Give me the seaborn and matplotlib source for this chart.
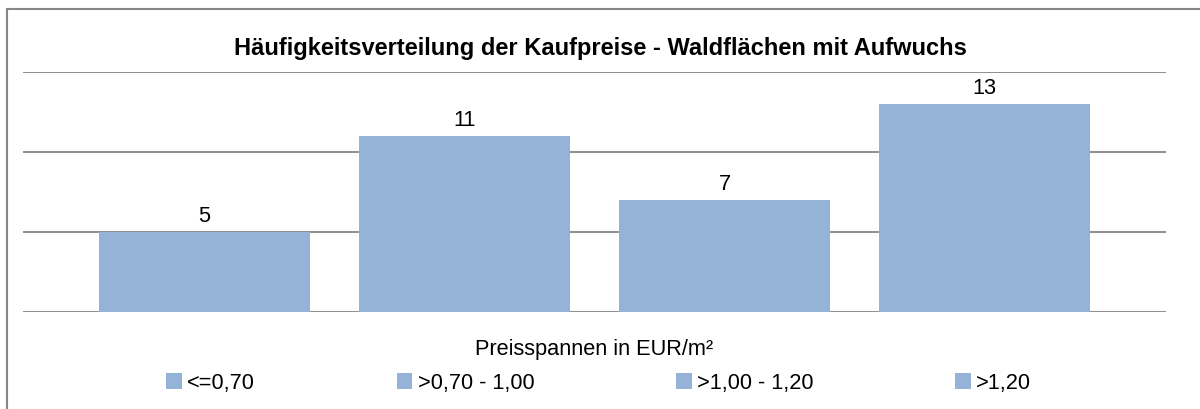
import matplotlib
matplotlib.use("Agg")
import matplotlib.pyplot as plt
import seaborn as sns
import pandas as pd
from matplotlib.patches import Patch, Rectangle

# ---- data ----
ranges = ["<=0,70", ">0,70 - 1,00", ">1,00 - 1,20", ">1,20"]
counts = [5, 11, 7, 13]
category = "Preisspannen in EUR/m²"
title = "Häufigkeitsverteilung der Kaufpreise - Waldflächen mit Aufwuchs"

bar_color = "#95B3D7"
grid_color = "#868686"

df = pd.DataFrame({"cat": [category] * len(ranges), "range": ranges, "count": counts})

sns.set_theme(style="white")
plt.rcParams["font.family"] = ["Liberation Sans", "DejaVu Sans"]
plt.rcParams["text.color"] = "black"
plt.rcParams["xtick.color"] = "black"
plt.rcParams["xtick.labelcolor"] = "black"

W, H = 1200, 410
fig = plt.figure(figsize=(12, 4.1), dpi=100)
ax = fig.add_axes([23 / W, 1 - 313 / H, (1166 - 23) / W, (313 - 73) / H])

sns.barplot(data=df, x="cat", y="count", hue="range", hue_order=ranges,
            palette=[bar_color] * len(ranges), width=0.91, gap=0.192,
            legend=False, ax=ax, saturation=1, edgecolor="none", linewidth=0)

ax.set_ylim(0, 15)
ax.set_xlim(-0.5, 0.5)
ax.set_yticks([0, 5, 10, 15])
ax.set_yticklabels([])
ax.yaxis.grid(True, color=grid_color, linewidth=1.3)
ax.set_axisbelow(True)
for s in ax.spines.values():
    s.set_visible(False)
ax.tick_params(axis="both", length=0)
ax.tick_params(axis="x", pad=19, labelsize=15.7, labelcolor="black")
ax.set_xlabel("")
ax.set_ylabel("")

for cont in ax.containers:
    ax.bar_label(cont, fmt="%d", padding=4, fontsize=15.7, color="black")

fig.text(0.5, 1 - 48 / H, title, ha="center", va="center", fontsize=17,
         fontweight="bold", color="black")

handles = [Patch(facecolor=bar_color, edgecolor="none") for _ in ranges]
leg = fig.legend(handles, ranges, loc="center", bbox_to_anchor=(598.5 / W, 1 - 384 / H),
                 ncol=4, frameon=False, fontsize=15.7, handlelength=0.73, handleheight=0.73,
                 handletextpad=0.23, columnspacing=6.5, labelcolor="black")

fig.patches.append(Rectangle((7 / W, -0.1), 1.2, 1.1 - 10 / H, transform=fig.transFigure,
                             fill=False, edgecolor="#878787", linewidth=1.5))

fig.savefig("out.png", dpi=100)
